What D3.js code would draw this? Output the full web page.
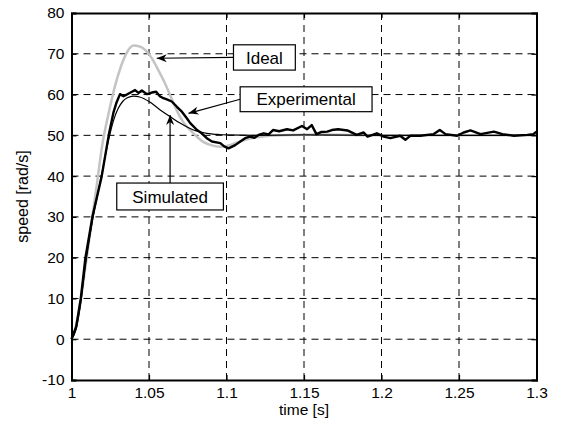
<!DOCTYPE html>
<html>
<head>
<meta charset="utf-8">
<script src="https://cdn.jsdelivr.net/npm/d3@7"></script>
<style>
    body { margin: 0; background: #fff; }
    svg text { font-family: "Liberation Sans", Arial, sans-serif; }
</style>
</head>
<body>
<svg id="chart" width="562" height="430"></svg>
<script>
(function () {
    "use strict";

    // tick labels
    var xTicks = [1, 1.05, 1.1, 1.15, 1.2, 1.25, 1.3];
    var xTickLabels = ["1", "1.05", "1.1", "1.15", "1.2", "1.25", "1.3"];
    var yTicks = [-10, 0, 10, 20, 30, 40, 50, 60, 70, 80];
    var yTickLabels = ["-10", "0", "10", "20", "30", "40", "50", "60", "70", "80"];

    // series, [time, speed]
    var ideal = [
        [1.000, 0], [1.004, 5], [1.008, 15], [1.012, 26], [1.016, 37], [1.020, 48],
        [1.024, 55.5], [1.028, 62], [1.032, 67], [1.036, 70.5], [1.040, 72], [1.044, 71.8],
        [1.048, 70.8], [1.052, 68.8], [1.056, 66], [1.060, 63], [1.064, 59.5], [1.068, 56],
        [1.072, 53.3], [1.076, 51.5], [1.080, 50], [1.085, 48.4], [1.090, 47.6], [1.096, 47.2],
        [1.102, 47.6], [1.108, 48.4], [1.115, 49.2], [1.125, 49.8], [1.140, 50.1], [1.160, 50.2],
        [1.200, 50], [1.250, 50], [1.300, 50]
    ];

    var simulated = [
        [1.000, 0], [1.003, 2.5], [1.006, 9], [1.009, 18], [1.0135, 29], [1.019, 39.5],
        [1.024, 49], [1.027, 53.5], [1.030, 56.5], [1.033, 58.3], [1.036, 59.2], [1.040, 59.6],
        [1.044, 59.4], [1.050, 58.3], [1.057, 56.3], [1.0636, 54.6], [1.070, 53], [1.0787, 51.3],
        [1.0873, 50.5], [1.095, 50.2], [1.100, 50.1], [1.120, 50.0], [1.150, 50.1], [1.200, 50.0],
        [1.250, 50.0], [1.300, 50.0]
    ];

    var experimental = [
        [1.000, 0], [1.003, 3], [1.006, 10], [1.009, 20], [1.0135, 30], [1.0195, 40],
        [1.024, 50], [1.027, 55.5], [1.029, 58], [1.0313, 60.1], [1.0335, 59.6], [1.0357, 60.0],
        [1.039, 60.7], [1.041, 61.1], [1.0432, 60.4], [1.0454, 61.0], [1.0486, 60.1], [1.0518, 60.5],
        [1.0546, 60.7], [1.057, 59.6], [1.0593, 59.1], [1.0615, 58.8], [1.0647, 58.3], [1.068, 57.0],
        [1.0712, 55.8], [1.0744, 54.2], [1.0766, 53.0], [1.081, 51.3], [1.084, 50.5], [1.0873, 49.3],
        [1.0906, 48.5], [1.096, 48.1], [1.0985, 47.3], [1.1013, 46.8], [1.1056, 47.6], [1.1089, 48.5],
        [1.112, 49.3], [1.115, 49.7], [1.118, 49.4], [1.1207, 50.1], [1.124, 50.5], [1.127, 50.2],
        [1.130, 51.3], [1.134, 51.0], [1.139, 51.5], [1.143, 51.2], [1.1487, 52.3], [1.152, 51.5],
        [1.155, 52.5], [1.158, 50.3], [1.161, 50.8], [1.165, 50.9], [1.168, 51.3], [1.172, 51.5],
        [1.178, 51.2], [1.184, 50.1], [1.1885, 50.7], [1.191, 49.7], [1.197, 50.5], [1.2014, 49.7],
        [1.2057, 49.3], [1.212, 49.9], [1.2154, 48.9], [1.2186, 49.9], [1.225, 49.9], [1.2337, 50.3],
        [1.2376, 51.3], [1.2413, 50.3], [1.2488, 49.9], [1.253, 50.7], [1.2574, 51.2], [1.2639, 50.3],
        [1.2725, 50.9], [1.278, 50.3], [1.2854, 49.9], [1.294, 50.1], [1.298, 50.3], [1.300, 50.9]
    ];

    // text boxes with arrows, in data units: tip of the arrow and box corners
    var annotations = [
        {label: "Ideal", tip: [1.0550, 68.9], box: [1.1045, 72.2, 1.1444, 66.0], from: "left"},
        {label: "Experimental", tip: [1.0755, 55.4], box: [1.1088, 61.9, 1.1939, 55.8], from: "left"},
        {label: "Simulated", tip: [1.0636, 55.0], box: [1.0292, 38.3, 1.0980, 31.7], from: "top"}
    ];

    var margin = {top: 13, right: 25.5, bottom: 50, left: 71.5},
        width = 562 - margin.left - margin.right,
        height = 430 - margin.top - margin.bottom;

    var svg = d3.select("#chart");
    var g = svg.append("g").attr("transform", "translate(" + margin.left + "," + margin.top + ")");

    var x = d3.scaleLinear().domain([1, 1.3]).range([0, width]);
    var y = d3.scaleLinear().domain([-10, 80]).range([height, 0]);

    // dashed grid
    g.append("g").selectAll("line")
        .data(xTicks.slice(1, -1))
        .enter().append("line")
        .attr("x1", function (d) { return x(d); })
        .attr("x2", function (d) { return x(d); })
        .attr("y1", height).attr("y2", 0)
        .attr("stroke", "#000").attr("stroke-width", 1)
        .attr("stroke-dasharray", "7,5");
    g.append("g").selectAll("line")
        .data(yTicks.slice(1, -1))
        .enter().append("line")
        .attr("y1", function (d) { return y(d); })
        .attr("y2", function (d) { return y(d); })
        .attr("x1", 0).attr("x2", width)
        .attr("stroke", "#000").attr("stroke-width", 1)
        .attr("stroke-dasharray", "7,5");

    // curves
    var line = d3.line()
        .x(function (d) { return x(d[0]); })
        .y(function (d) { return y(d[1]); });
    var smooth = d3.line()
        .curve(d3.curveMonotoneX)
        .x(function (d) { return x(d[0]); })
        .y(function (d) { return y(d[1]); });

    g.append("path").datum(ideal)
        .attr("d", smooth).attr("fill", "none")
        .attr("stroke", "#c4c4c4").attr("stroke-width", 2.5);
    g.append("path").datum(experimental)
        .attr("d", line).attr("fill", "none")
        .attr("stroke", "#000").attr("stroke-width", 2.4)
        .attr("stroke-linejoin", "round");
    g.append("path").datum(simulated)
        .attr("d", smooth).attr("fill", "none")
        .attr("stroke", "#000").attr("stroke-width", 1.2);

    // axes, ticks pointing in
    var fmtX = function (d, i) { return xTickLabels[i]; };
    var fmtY = function (d, i) { return yTickLabels[i]; };
    g.append("g").attr("transform", "translate(0," + height + ")")
        .call(d3.axisBottom(x).tickValues(xTicks).tickFormat(fmtX).tickSize(-5).tickPadding(7));
    g.append("g")
        .call(d3.axisLeft(y).tickValues(yTicks).tickFormat(fmtY).tickSize(-5).tickPadding(7));
    g.append("g")
        .call(d3.axisTop(x).tickValues(xTicks).tickFormat("").tickSize(-5));
    g.append("g").attr("transform", "translate(" + width + ",0)")
        .call(d3.axisRight(y).tickValues(yTicks).tickFormat("").tickSize(-5));

    g.selectAll(".domain").attr("stroke", "#000").attr("stroke-width", 2);
    g.selectAll(".tick line").attr("stroke", "#000").attr("stroke-width", 1.2);
    g.selectAll(".tick text").attr("font-size", 15.5).attr("fill", "#000")
        .attr("font-family", "Liberation Sans, Arial, sans-serif");

    // axis titles
    g.append("text")
        .attr("x", width / 2).attr("y", height + 35)
        .attr("text-anchor", "middle").attr("font-size", 15.5)
        .text("time [s]");
    g.append("text")
        .attr("transform", "translate(" + (-44) + "," + (height / 2) + ") rotate(-90)")
        .attr("text-anchor", "middle").attr("font-size", 16)
        .text("speed [rad/s]");

    // arrow head
    svg.append("defs").append("marker")
        .attr("id", "head")
        .attr("viewBox", "-11 -5 12 10")
        .attr("refX", 0).attr("refY", 0)
        .attr("markerWidth", 12).attr("markerHeight", 10)
        .attr("markerUnits", "userSpaceOnUse")
        .attr("orient", "auto")
        .append("path")
        .attr("d", "M0,0L-10,-4L-7,0L-10,4Z")
        .attr("fill", "#000");

    var notes = g.append("g");
    annotations.forEach(function (a) {
        var bx0 = x(a.box[0]), by0 = y(a.box[1]), bx1 = x(a.box[2]), by1 = y(a.box[3]);
        var sx, sy;
        if (a.from === "left") {
            sx = bx0; sy = (by0 + by1) / 2;
        } else {
            sx = x(a.tip[0]); sy = by0;
        }
        notes.append("line")
            .attr("x1", sx).attr("y1", sy)
            .attr("x2", x(a.tip[0])).attr("y2", y(a.tip[1]))
            .attr("stroke", "#000").attr("stroke-width", 1.2)
            .attr("marker-end", "url(#head)");
        notes.append("rect")
            .attr("x", bx0).attr("y", by0)
            .attr("width", bx1 - bx0).attr("height", by1 - by0)
            .attr("fill", "#fff").attr("stroke", "#000").attr("stroke-width", 1.2);
        notes.append("text")
            .attr("x", (bx0 + bx1) / 2).attr("y", (by0 + by1) / 2)
            .attr("dy", "0.36em")
            .attr("text-anchor", "middle").attr("font-size", 17)
            .text(a.label);
    });
}());
</script>
</body>
</html>
